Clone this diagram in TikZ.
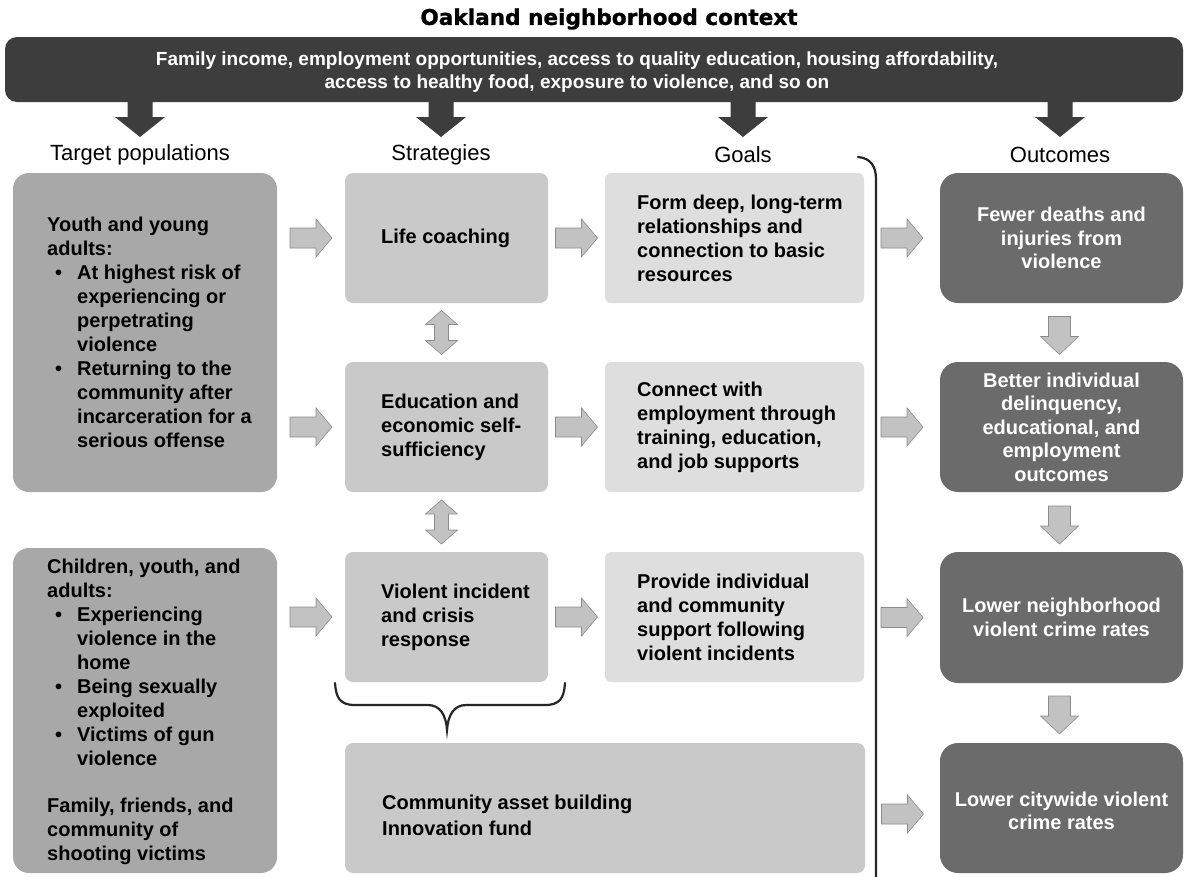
\documentclass[tikz,border=0pt]{standalone}
\usepackage{fontspec}
\setmainfont{Liberation Sans}
\newfontfamily\titlefont[FakeBold=1.2]{DejaVu Sans}
\usetikzlibrary{calc}
\newcommand{\tpbul}{\makebox[30pt][l]{\hspace{8pt}\textbullet}}
\newcommand{\tpind}{\hspace*{30pt}}
\definecolor{bannerc}{gray}{0.24}
\definecolor{targetc}{gray}{0.66}
\definecolor{stratc}{gray}{0.79}
\definecolor{goalc}{gray}{0.87}
\definecolor{outc}{gray}{0.42}
\definecolor{arrc}{gray}{0.76}
\tikzset{
  boxbase/.style={inner sep=0pt, outer sep=0pt},
  tbox/.style={boxbase, fill=targetc, rounded corners=16pt},
  sbox/.style={boxbase, fill=stratc, rounded corners=8pt},
  gbox/.style={boxbase, fill=goalc, rounded corners=6pt},
  obox/.style={boxbase, fill=outc, rounded corners=18pt},
  btext/.style={inner sep=0pt, align=left, font=\bfseries\fontsize{20}{24}\selectfont},
  otext/.style={inner sep=0pt, align=center, text=white, font=\bfseries\fontsize{20}{23.5}\selectfont},
  hdr/.style={inner sep=0pt, font=\fontsize{22}{26}\selectfont},
  smallarrow/.style={fill=arrc, draw=black!45, line width=0.6pt},
  bigarrow/.style={fill=bannerc},
  rarr/.pic={\path[smallarrow] (-21,-10) -- (5,-10) -- (5,-19) -- (21,0) -- (5,19) -- (5,10) -- (-21,10) -- cycle;},
  darr/.pic={\path[smallarrow] (-11,-19) -- (11,-19) -- (11,1) -- (19,1) -- (0,19) -- (-19,1) -- (-11,1) -- cycle;},
  udarr/.pic={\path[smallarrow] (0,-22) -- (16,-8) -- (7,-8) -- (7,8) -- (16,8) -- (0,22) -- (-16,8) -- (-7,8) -- (-7,-8) -- (-16,-8) -- cycle;},
  bigdarr/.pic={\path[bigarrow] (-12.5,-20) -- (12.5,-20) -- (12.5,0) -- (25,0) -- (0,20) -- (-25,0) -- (-12.5,0) -- cycle;},
  bracket/.style={draw=black!85, line width=2.2pt, line cap=round},
}
\begin{document}
\begin{tikzpicture}[x=1pt,y=-1pt]
\useasboundingbox (0,0) rectangle (1185,876);
\fill[white] (0,0) rectangle (1185,876);

% title and banner
\node[inner sep=0pt, font=\titlefont\bfseries\fontsize{21.6}{25}\selectfont] (title) at (609,19) {Oakland neighborhood context};
\node[boxbase, fill=bannerc, rounded corners=12pt, minimum width=1178pt, minimum height=65pt] (banner) at (594,69.5) {};
\node[inner sep=0pt, align=center, text=white, font=\bfseries\fontsize{19}{23}\selectfont] (bantext) at (577,72)
  {Family income, employment opportunities, access to quality education, housing affordability,\\
   access to healthy food, exposure to violence, and so on};

% headers
\node[hdr] (hT) at (140,155) {Target populations};
\node[hdr] (hS) at (441,155) {Strategies};
\node[hdr] (hG) at (743,155) {Goals};
\node[hdr] (hO) at (1060,155) {Outcomes};

% big arrows from banner
\foreach \h in {hT,hS,hG,hO}{
  \pic at ($(\h |- banner.south)+(0,15)$) {bigdarr};
}

% target populations
\node[tbox, minimum width=264pt, minimum height=319pt] (t1) at (145,332.5) {};
\node[tbox, minimum width=264pt, minimum height=325pt] (t2) at (145,710.5) {};
\node[btext, anchor=west] (t1x) at (47,332.5) {Youth and young\\
adults:\\
\tpbul At highest risk of\\
\tpind experiencing or\\
\tpind perpetrating\\
\tpind violence\\
\tpbul Returning to the\\
\tpind community after\\
\tpind incarceration for a\\
\tpind serious offense};
\node[btext, anchor=west] (t2x) at (47,712) {Children, youth, and\\
adults:\\
\tpbul Experiencing\\
\tpind violence in the\\
\tpind home\\
\tpbul Being sexually\\
\tpind exploited\\
\tpbul Victims of gun\\
\tpind violence\\[23pt]
Family, friends, and\\
community of\\
shooting victims};

% strategies
\node[sbox, minimum width=203pt, minimum height=130pt] (s1) at (446.5,238) {};
\node[sbox, minimum width=203pt, minimum height=130pt] (s2) at (446.5,427) {};
\node[sbox, minimum width=203pt, minimum height=130pt] (s3) at (446.5,617) {};
\node[sbox, minimum width=520pt, minimum height=130pt] (c) at (605,808) {};
\node[btext, anchor=west] (s1x) at (381,238) {Life coaching};
\node[btext, anchor=west] (s2x) at (381,427) {Education and\\economic self-\\sufficiency};
\node[btext, anchor=west] (s3x) at (381,617) {Violent incident\\and crisis\\response};
\node[btext, anchor=west, font=\bfseries\fontsize{20}{26}\selectfont] (cx) at (382,815) {Community asset building\\Innovation fund};

% goals
\node[gbox, minimum width=259pt, minimum height=130pt] (g1) at (734.5,238) {};
\node[gbox, minimum width=259pt, minimum height=130pt] (g2) at (734.5,427) {};
\node[gbox, minimum width=259pt, minimum height=130pt] (g3) at (734.5,617) {};
\node[btext, anchor=west] (g1x) at (637,238) {Form deep, long-term\\relationships and\\connection to basic\\resources};
\node[btext, anchor=west] (g2x) at (637,427) {Connect with\\employment through\\training, education,\\and job supports};
\node[btext, anchor=west] (g3x) at (637,617) {Provide individual\\and community\\support following\\violent incidents};

% outcomes
\node[obox, minimum width=243pt, minimum height=130pt] (o1) at (1061.5,238) {};
\node[obox, minimum width=243pt, minimum height=130pt] (o2) at (1061.5,427) {};
\node[obox, minimum width=243pt, minimum height=131pt] (o3) at (1061.5,617.5) {};
\node[obox, minimum width=243pt, minimum height=130pt] (o4) at (1061.5,808) {};
\node[otext] (o1x) at (o1) {Fewer deaths and\\injuries from\\violence};
\node[otext] (o2x) at (o2) {Better individual\\delinquency,\\educational, and\\employment\\outcomes};
\node[otext] (o3x) at (o3) {Lower neighborhood\\violent crime rates};
\node[otext] (o4x) at ($(o4)+(0,3)$) {Lower citywide violent\\crime rates};

% small right arrows
\pic at ($(t1.east |- s1.center)!0.5!(s1.west)$) {rarr};
\pic at ($(t1.east |- s2.center)!0.5!(s2.west)$) {rarr};
\pic at ($(t2.east |- s3.center)!0.5!(s3.west)$) {rarr};
\foreach \a/\b in {s1/g1,s2/g2,s3/g3,g1/o1,g2/o2,g3/o3}{
  \pic at ($(\a.east |- \b.center)!0.5!(\b.west)$) {rarr};
}
\pic at ($(c.east |- o4.center)!0.5!(o4.west)+(0,6)$) {rarr};
% double arrows between strategies
\pic at ($(s1.south)!0.5!(s2.north)+(-5,0)$) {udarr};
\pic at ($(s2.south)!0.5!(s3.north)+(-5,0)$) {udarr};
% outcome down arrows
\pic at ($(o1.south)!0.5!(o2.north)+(-2,3)$) {darr};
\pic at ($(o2.south)!0.5!(o3.north)+(-2,3)$) {darr};
\pic at ($(o3.south)!0.5!(o4.north)+(-2,2)$) {darr};

% brace under strategies
\coordinate (bl) at ($(s3.south west)+(-10,1)$);
\coordinate (br) at ($(s3.south east)+(17,1)$);
\coordinate (btip) at ($(s3.south)+(0.5,48)$);
\draw[bracket] (bl) .. controls +(1,15) and +(-15,0) .. ($(bl)+(20,22)$)
  -- ($(btip)+(-19,-25)$) .. controls +(12,0) and +(-1,-15) .. (btip)
  .. controls +(1,-15) and +(-12,0) .. ($(btip)+(19,-25)$)
  -- ($(br)+(-20,22)$) .. controls +(15,0) and +(-1,15) .. (br);

% vertical bracket between goals and outcomes
\coordinate (vt) at ($(g1.north east)+(-6,-16)$);
\coordinate (vt2) at ($(vt)+(18,22)$);
\coordinate (vb) at ($(g3.east |- c.south)+(5,3)$);
\coordinate (vb2) at (vt2 |- vb);
\draw[bracket] (vt) .. controls +(13,1) and +(0,-12) .. (vt2)
  -- (vb2) .. controls +(0,8) and +(3,-3) .. ($(vb2)+(-6,11)$);
\end{tikzpicture}
\end{document}
